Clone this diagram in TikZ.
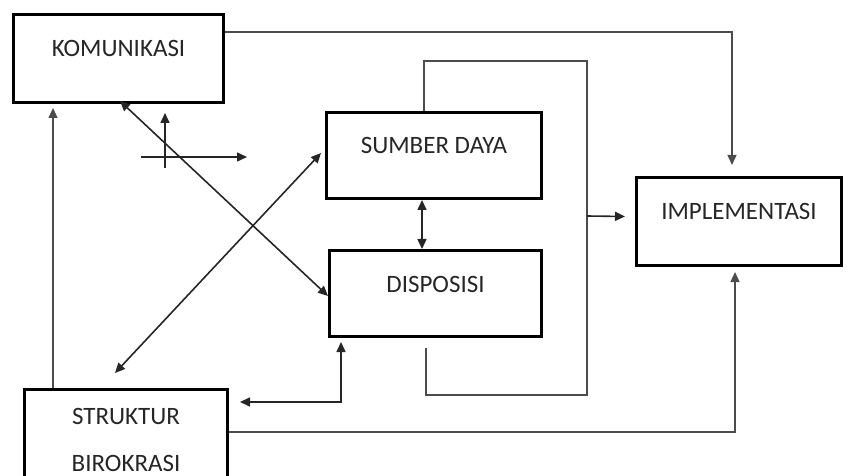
\documentclass[tikz,border=0pt]{standalone}
\usepackage{fontspec}
\setmainfont{Carlito}
\usepackage{tikz}
\usetikzlibrary{calc, positioning, arrows.meta}
\tikzset{
	line width = 1.3pt,
	>={Triangle[length=10pt, width=9pt]},
	font = \fontsize{25}{47}\selectfont,
	block/.style={
		draw,
		rectangle,
		line width=3pt,
		inner sep=0pt,
		text=black!85
	},
	oneline/.style={
		block,
		text height=16pt,
		text depth=19pt
	},
	wire/.style={
		draw=black!70,
		line width=1.3pt
	},
	flow/.style={
		->,
		draw=black!85,
		line width=1.6pt
	},
	twoway/.style={
		<->,
		draw=black!85,
		line width=1.6pt
	}
}

\begin{document}
\begin{tikzpicture}[x=1pt, y=-1pt]
		\useasboundingbox (0,0) rectangle (847,476);
		% boxes
		\node[oneline, minimum width=210pt, minimum height=88pt] at (118.5,58.5) (komunikasi) {KOMUNIKASI};
		\node[oneline, minimum width=215pt, minimum height=86pt] at (434,155.5) (sumber) {SUMBER DAYA};
		\node[oneline, minimum width=212pt, minimum height=86pt] at (435.5,293.5) (disposisi) {DISPOSISI};
		\node[oneline, minimum width=205pt, minimum height=88pt] at (739,221.5) (implementasi) {IMPLEMENTASI};
		\node[block, minimum width=203pt, minimum height=100pt, align=center, anchor=north] at (126,388) (struktur) {STRUKTUR\\BIROKRASI};
		% bus on the right
		\coordinate (bustop) at (587,61);
		\coordinate (bus) at (587,216);
		\coordinate (busbot) at (587,395);
		\draw[wire] ([xshift=-10pt]sumber.north) |- (bustop) -- (busbot) -| ([xshift=-9.5pt,yshift=-10pt]disposisi.south);
		\draw[flow] (bus) -- ([xshift=-10pt,yshift=5pt]implementasi.west);
		% connectors
		\draw[wire, ->] ([yshift=26.5pt]komunikasi.east) -| ([xshift=-7pt,yshift=11pt]implementasi.north);
		\draw[wire, ->] ([yshift=-44pt]struktur.north east) -| ([xshift=-4pt,yshift=-5pt]implementasi.south);
		\draw[wire, ->] ([xshift=-73pt]struktur.north) -- ([xshift=-65.5pt,yshift=-4pt]komunikasi.south);
		\draw[twoway] ([xshift=-12pt]sumber.south) -- ([xshift=-13.5pt]disposisi.north);
		\draw[twoway] ([xshift=1.5pt,yshift=3pt]komunikasi.south) -- ([yshift=-2.5pt]disposisi.west);
		\draw[twoway] ([xshift=-4pt,yshift=2.5pt]sumber.west) -- ([xshift=-11pt,yshift=15pt]struktur.north);
		\draw[twoway] ([xshift=11pt,yshift=-14pt]struktur.north east) -| ([xshift=-94.5pt,yshift=-4pt]disposisi.south);
		% small cross
		\coordinate (crossv) at (165,168);
		\coordinate (crossh) at (141,157);
		\draw[flow] (crossv) -- ++(0,-55);
		\draw[flow] (crossh) -- ++(106,0);
	\end{tikzpicture}
\end{document}
